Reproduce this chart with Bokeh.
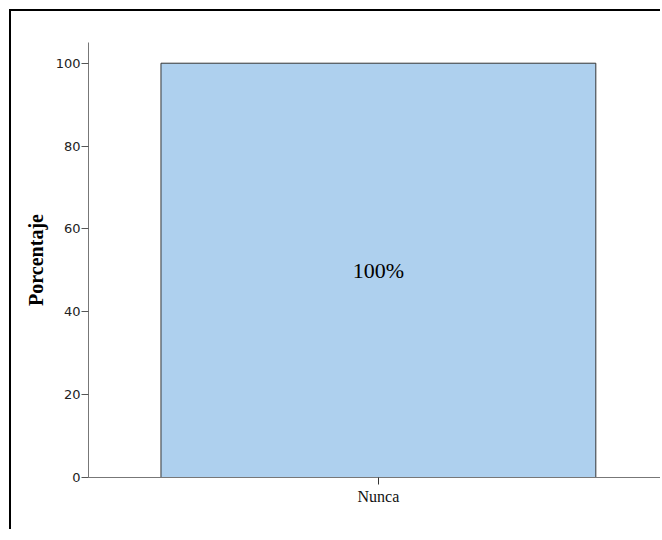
from bokeh.plotting import figure
from bokeh.models import ColumnDataSource, FixedTicker, Range1d
from bokeh.embed import file_html
from bokeh.resources import INLINE
from bokeh.core.properties import value

categories = ["Nunca"]
percentages = [100]
bar_labels = ["100%"]
y_ticks = [0, 20, 40, 60, 80, 100]

x_pos = list(range(len(categories)))
src = ColumnDataSource(dict(
    x=x_pos,
    top=percentages,
    mid=[v / 2 for v in percentages],
    label=bar_labels,
))

p = figure(width=651, height=520, output_backend="svg", toolbar_location=None,
           x_range=Range1d(-0.5, 0.49), y_range=Range1d(0, 105),
           min_border_left=77, min_border_right=0, min_border_top=31,
           min_border_bottom=54)
p.styles = {"border-left": "2px solid black", "border-top": "2px solid black",
            "margin-left": "9px", "margin-top": "9px"}

p.vbar(x="x", top="top", bottom=0, width=0.75, source=src,
       fill_color="#aed0ee", line_color="#333333", line_width=1)
p.text(x="x", y="mid", text="label", source=src, text_align="center",
       text_baseline="middle", text_font=value("Liberation Serif"),
       text_font_size="22px", text_color="black")

p.outline_line_color = None
p.grid.visible = False
p.background_fill_color = "white"
p.border_fill_color = "white"

ya = p.yaxis[0]
ya.ticker = FixedTicker(ticks=y_ticks)
ya.axis_label = "Porcentaje"
ya.axis_label_text_font = "Liberation Serif"
ya.axis_label_text_font_style = "bold"
ya.axis_label_text_font_size = "20px"
ya.axis_label_text_color = "black"
ya.axis_label_standoff = 6
ya.axis_line_color = "#777777"
ya.major_tick_line_color = "#555555"
ya.major_tick_in = 0
ya.major_tick_out = 7
ya.minor_tick_line_color = None
ya.major_label_text_font = "DejaVu Sans"
ya.major_label_text_font_size = "13px"
ya.major_label_text_color = "#222222"
ya.major_label_standoff = 1

xa = p.xaxis[0]
xa.ticker = FixedTicker(ticks=x_pos)
xa.major_label_overrides = {i: c for i, c in zip(x_pos, categories)}
xa.axis_line_color = "#777777"
xa.major_tick_line_color = "#333333"
xa.major_tick_in = 0
xa.major_tick_out = 7
xa.minor_tick_line_color = None
xa.major_label_text_font = "Liberation Serif"
xa.major_label_text_font_size = "16px"
xa.major_label_text_color = "#111111"
xa.major_label_standoff = 3

open("out.html", "w").write(file_html(p, INLINE))
